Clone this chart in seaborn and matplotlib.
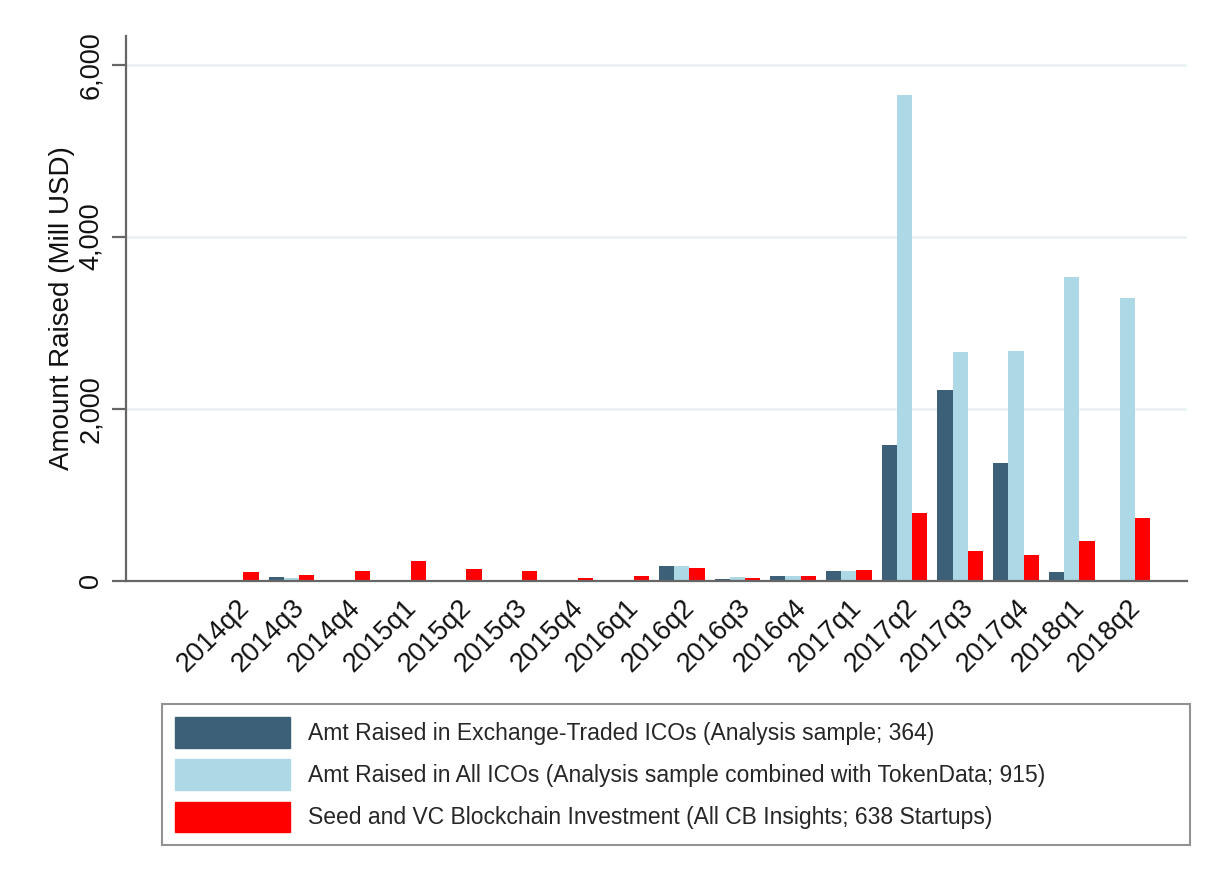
import numpy as np
import pandas as pd
import matplotlib.pyplot as plt
import seaborn as sns
from matplotlib.ticker import FuncFormatter

# --- Data (Mill USD) ---
quarters = ["2014q2", "2014q3", "2014q4", "2015q1", "2015q2", "2015q3",
            "2015q4", "2016q1", "2016q2", "2016q3", "2016q4", "2017q1",
            "2017q2", "2017q3", "2017q4", "2018q1", "2018q2"]
exch_icos = [0, 39, 0, 0, 0, 0, 0, 0, 167, 23, 54, 116,
             1576, 2220, 1375, 105, 0]
all_icos = [0, 30, 0, 0, 0, 0, 0, 0, 167, 47, 50, 116,
            5650, 2654, 2670, 3527, 3290]
seed_vc = [97, 66, 113, 229, 140, 108, 35, 58, 144, 31, 54, 124,
           784, 350, 302, 462, 732]

series_names = [
    "Amt Raised in Exchange-Traded ICOs (Analysis sample; 364)",
    "Amt Raised in All ICOs (Analysis sample combined with TokenData; 915)",
    "Seed and VC Blockchain Investment (All CB Insights; 638 Startups)",
]
colors = ["#3d6079", "#add8e6", "#ff0000"]

df = pd.DataFrame({
    "quarter": quarters * 3,
    "series": np.repeat(series_names, len(quarters)),
    "amount": exch_icos + all_icos + seed_vc,
})

sns.set_theme(style="white")
plt.rcParams["font.family"] = ["Liberation Sans", "DejaVu Sans"]

fig = plt.figure(figsize=(12.12, 8.84), dpi=100)
ax = fig.add_axes([0.104, 0.343, 0.875, 0.616])

sns.barplot(data=df, x="quarter", y="amount", hue="series", order=quarters,
            hue_order=series_names, palette=colors, width=0.82,
            linewidth=0, saturation=1, ax=ax)

ax.set_xlim(-1.97, 17.06)
ax.set_ylim(0, 6330)
ax.set_yticks([0, 2000, 4000, 6000])
ax.yaxis.set_major_formatter(FuncFormatter(lambda v, p: f"{int(v):,}"))
ax.grid(axis="y", color="#eaf2f3", linewidth=2)
ax.set_axisbelow(True)

for side in ["top", "right"]:
    ax.spines[side].set_visible(False)
for side in ["left", "bottom"]:
    ax.spines[side].set_color("#666666")
    ax.spines[side].set_linewidth(1.6)

ax.tick_params(axis="y", left=True, length=10, width=1.6, color="#666666",
               labelsize=19.5, pad=6, labelcolor="#111111")
for lab in ax.get_yticklabels():
    lab.set_rotation(90)
    lab.set_va("center")
ax.tick_params(axis="x", bottom=False, labelsize=19.5, pad=4,
               labelcolor="#111111")
for lab in ax.get_xticklabels():
    lab.set_rotation(45)
    lab.set_ha("right")
    lab.set_rotation_mode("anchor")

ax.set_xlabel("")
ax.set_ylabel("Amount Raised (Mill USD)", fontsize=20, labelpad=2,
              color="#111111")

ax.legend_.remove()
handles = [plt.Rectangle((0, 0), 1, 1, color=c) for c in colors]
leg = fig.legend(handles, series_names, loc="lower left",
                 bbox_to_anchor=(0.134, 0.044, 0.848, 0.164), mode="expand",
                 ncol=1, fontsize=16.5, frameon=True, fancybox=False,
                 edgecolor="#777777", handlelength=5.0, handleheight=1.7,
                 handletextpad=0.8, labelspacing=0.5, borderpad=0.55,
                 borderaxespad=0)
leg.get_frame().set_linewidth(1.5)

fig.savefig("out.png", dpi=100)
